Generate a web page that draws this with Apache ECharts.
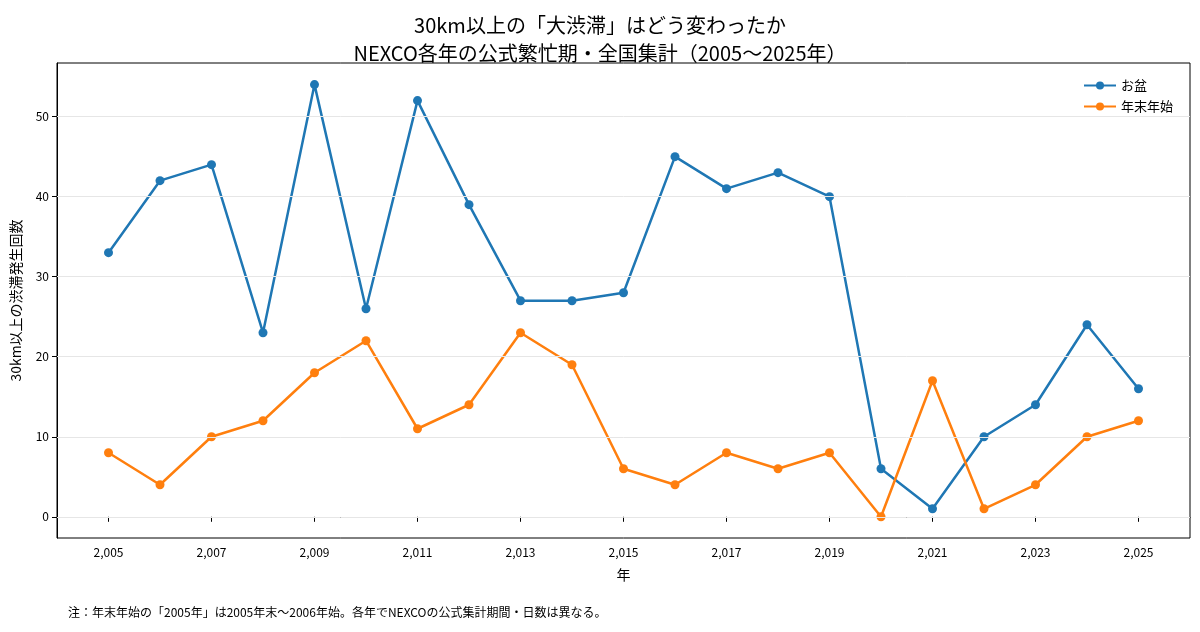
<!DOCTYPE html>
<html>
<head>
<meta charset="UTF-8">
<script src="https://cdn.jsdelivr.net/npm/echarts@6/dist/echarts.min.js"></script>
<style>html,body{margin:0;padding:0;background:#fff}#main{width:1200px;height:632px}</style>
</head>
<body>
<div id="main"></div>
<script>
var years = [2005,2006,2007,2008,2009,2010,2011,2012,2013,2014,2015,2016,2017,2018,2019,2020,2021,2022,2023,2024,2025];
var obon = [33,42,44,23,54,26,52,39,27,27,28,45,41,43,40,6,1,10,14,24,16];
var nenmatsu = [8,4,10,12,18,22,11,14,23,19,6,4,8,6,8,0,17,1,4,10,12];
var xTicks = [2005,2007,2009,2011,2013,2015,2017,2019,2021,2023,2025];

var font = '"Noto Sans CJK JP", "Noto Sans", sans-serif';
var chart = echarts.init(document.getElementById('main'));
function pairs(v){ return years.map(function(y,i){ return [y, v[i]]; }); }
chart.setOption({
  textStyle: {fontFamily: font},
  title: {
    text: '30km以上の「大渋滞」はどう変わったか\nNEXCO各年の公式繁忙期・全国集計（2005〜2025年）',
    left: 'center', top: 6,
    textStyle: {fontSize: 20, fontWeight: 'normal', color: '#000', lineHeight: 28, fontFamily: font}
  },
  graphic: [{type: 'text', left: 68, top: 606, style: {text: '注：年末年始の「2005年」は2005年末〜2006年始。各年でNEXCOの公式集計期間・日数は異なる。', fontSize: 12, fill: '#000', fontFamily: font}}],
  legend: {
    top: 74, right: 22, orient: 'vertical', itemWidth: 32, itemHeight: 10, itemGap: 8,
    textStyle: {fontSize: 13, color: '#000'},
    data: ['お盆', '年末年始']
  },
  grid: {left: 57, right: 10, top: 63, bottom: 94},
  xAxis: {
    type: 'value', min: 2004, max: 2026,
    name: '年', nameLocation: 'middle', nameGap: 30, nameTextStyle: {fontSize: 14, color: '#000'},
    axisLine: {show: true, lineStyle: {color: '#000'}},
    axisTick: {show: true, customValues: xTicks, lineStyle: {color: '#000'}},
    axisLabel: {customValues: xTicks, color: '#000', fontSize: 12},
    splitLine: {show: false}
  },
  yAxis: {
    type: 'value', min: -2.65, max: 56.7, interval: 10,
    name: '30km以上の渋滞発生回数', nameLocation: 'middle', nameGap: 34, nameTextStyle: {fontSize: 14, color: '#000'},
    axisLine: {show: true, lineStyle: {color: '#000'}},
    axisTick: {show: true, customValues: [0,10,20,30,40,50], lineStyle: {color: '#000'}},
    axisLabel: {customValues: [0,10,20,30,40,50], color: '#000', fontSize: 12},
    splitLine: {show: false}
  },
  series: [
    {name: 'お盆', type: 'line', data: pairs(obon), symbol: 'circle', symbolSize: 9,
     lineStyle: {width: 2.5, color: '#1f77b4'}, itemStyle: {color: '#1f77b4'},
     markLine: {silent: true, symbol: 'none', label: {show: false},
       lineStyle: {color: '#e6e6e6', type: 'solid', width: 1},
       data: [{yAxis: 0},{yAxis: 10},{yAxis: 20},{yAxis: 30},{yAxis: 40},{yAxis: 50}]}},
    {name: '年末年始', type: 'line', data: pairs(nenmatsu), symbol: 'circle', symbolSize: 9,
     lineStyle: {width: 2.5, color: '#ff7f0e'}, itemStyle: {color: '#ff7f0e'}}
  ]
});
// frame on top/right
chart.setOption({graphic: [{}, {type: 'rect', shape: {x: 57, y: 63, width: 1133, height: 475}, style: {fill: 'none', stroke: '#000', lineWidth: 1}, silent: true}]});
</script>
</body>
</html>
